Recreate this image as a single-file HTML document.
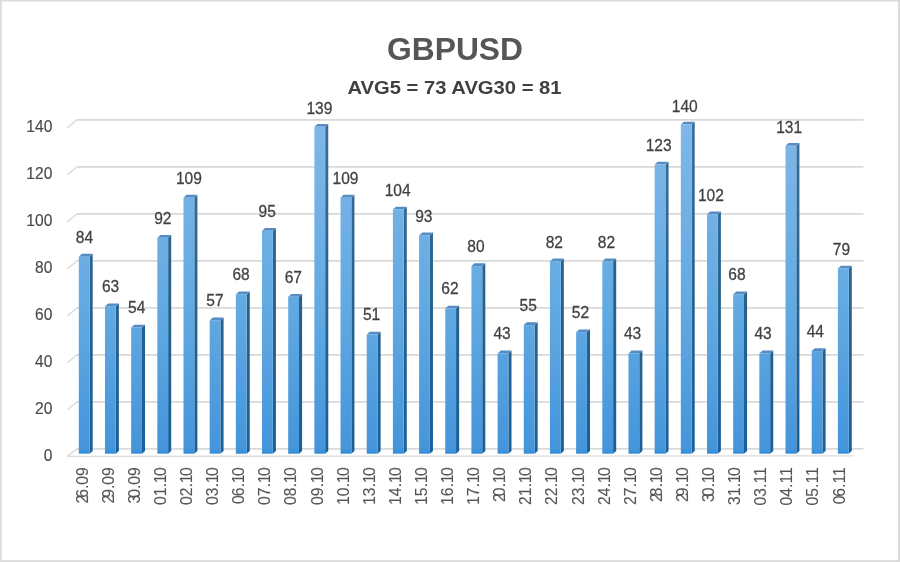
<!DOCTYPE html>
<html lang="en"><head><meta charset="utf-8"><title>GBPUSD</title>
<style>
html,body{margin:0;padding:0;background:#fff;}
body{width:900px;height:562px;overflow:hidden;}
svg{display:block;}
text{font-family:"Liberation Sans",sans-serif;}
</style></head><body>
<svg width="900" height="562" viewBox="0 0 900 562">
<defs>
<linearGradient id="gf" gradientUnits="userSpaceOnUse" x1="0" y1="120" x2="0" y2="454">
<stop offset="0" stop-color="#80b7e8"/><stop offset="0.55" stop-color="#62aae2"/><stop offset="0.985" stop-color="#4595db"/><stop offset="1" stop-color="#2f8bd6"/>
</linearGradient>
<linearGradient id="gs" gradientUnits="userSpaceOnUse" x1="0" y1="120" x2="0" y2="454">
<stop offset="0" stop-color="#3c6e9b"/><stop offset="0.55" stop-color="#26628c"/><stop offset="1" stop-color="#1c6099"/>
</linearGradient>
<filter id="b" x="-5%" y="-5%" width="110%" height="110%"><feGaussianBlur stdDeviation="0.4"/></filter>
<filter id="b3" x="-5%" y="-5%" width="110%" height="110%"><feGaussianBlur stdDeviation="0.7"/></filter>
<filter id="b2" x="-5%" y="-5%" width="110%" height="110%"><feGaussianBlur stdDeviation="0.6"/></filter>
</defs>
<rect x="0" y="0" width="900" height="562" fill="#ffffff"/>

<rect x="0" y="0" width="900" height="1.6" fill="#dcdcdc"/>
<rect x="0" y="0" width="1.8" height="562" fill="#dcdcdc"/>
<rect x="898.1" y="0" width="1.9" height="562" fill="#dadada"/>
<rect x="0" y="560.2" width="900" height="1.8" fill="#dadada"/>
<g filter="url(#b2)">
<g fill="none" stroke="#d9d9d9" stroke-width="1.7" filter="url(#b3)">
<path d="M76.8 448.9 H863.5"/>
<path d="M67.4 456.4 L77.1 448.7" stroke="#dadada" stroke-width="1.4"/>
<path d="M76.8 401.9 H863.5"/>
<path d="M67.4 409.8 L77.1 401.7" stroke="#dadada" stroke-width="1.4"/>
<path d="M76.8 354.9 H863.5"/>
<path d="M67.4 362.8 L77.1 354.7" stroke="#dadada" stroke-width="1.4"/>
<path d="M76.8 307.9 H863.5"/>
<path d="M67.4 315.8 L77.1 307.7" stroke="#dadada" stroke-width="1.4"/>
<path d="M76.8 260.9 H863.5"/>
<path d="M67.4 268.8 L77.1 260.7" stroke="#dadada" stroke-width="1.4"/>
<path d="M76.8 213.9 H863.5"/>
<path d="M67.4 221.8 L77.1 213.7" stroke="#dadada" stroke-width="1.4"/>
<path d="M76.8 166.9 H863.5"/>
<path d="M67.4 174.8 L77.1 166.7" stroke="#dadada" stroke-width="1.4"/>
<path d="M76.8 119.9 H863.5"/>
<path d="M67.4 127.8 L77.1 119.7" stroke="#dadada" stroke-width="1.4"/>
<path d="M67.4 456.4 L854 455.8" stroke="#dcdcdc" stroke-width="1.3"/>
</g>
<path d="M89.60 256.66 L92.70 253.86 V450.90 L89.60 453.70 Z" fill="url(#gs)"/>
<path d="M78.80 256.66 L81.90 253.86 H92.70 L89.60 256.66 Z" fill="#558cc3"/>
<rect x="78.80" y="256.66" width="10.8" height="197.04" fill="url(#gf)"/>
<path d="M115.77 306.22 L118.87 303.42 V450.90 L115.77 453.70 Z" fill="url(#gs)"/>
<path d="M104.97 306.22 L108.07 303.42 H118.87 L115.77 306.22 Z" fill="#558cc3"/>
<rect x="104.97" y="306.22" width="10.8" height="147.48" fill="url(#gf)"/>
<path d="M141.95 327.46 L145.05 324.66 V450.90 L141.95 453.70 Z" fill="url(#gs)"/>
<path d="M131.15 327.46 L134.25 324.66 H145.05 L141.95 327.46 Z" fill="#558cc3"/>
<rect x="131.15" y="327.46" width="10.8" height="126.24" fill="url(#gf)"/>
<path d="M168.12 237.78 L171.22 234.98 V450.90 L168.12 453.70 Z" fill="url(#gs)"/>
<path d="M157.32 237.78 L160.42 234.98 H171.22 L168.12 237.78 Z" fill="#558cc3"/>
<rect x="157.32" y="237.78" width="10.8" height="215.92" fill="url(#gf)"/>
<path d="M194.30 197.66 L197.40 194.86 V450.90 L194.30 453.70 Z" fill="url(#gs)"/>
<path d="M183.50 197.66 L186.60 194.86 H197.40 L194.30 197.66 Z" fill="#558cc3"/>
<rect x="183.50" y="197.66" width="10.8" height="256.04" fill="url(#gf)"/>
<path d="M220.48 320.38 L223.58 317.58 V450.90 L220.48 453.70 Z" fill="url(#gs)"/>
<path d="M209.68 320.38 L212.78 317.58 H223.58 L220.48 320.38 Z" fill="#558cc3"/>
<rect x="209.68" y="320.38" width="10.8" height="133.32" fill="url(#gf)"/>
<path d="M246.65 294.42 L249.75 291.62 V450.90 L246.65 453.70 Z" fill="url(#gs)"/>
<path d="M235.85 294.42 L238.95 291.62 H249.75 L246.65 294.42 Z" fill="#558cc3"/>
<rect x="235.85" y="294.42" width="10.8" height="159.28" fill="url(#gf)"/>
<path d="M272.82 230.70 L275.93 227.90 V450.90 L272.82 453.70 Z" fill="url(#gs)"/>
<path d="M262.02 230.70 L265.12 227.90 H275.93 L272.82 230.70 Z" fill="#558cc3"/>
<rect x="262.02" y="230.70" width="10.8" height="223.00" fill="url(#gf)"/>
<path d="M299.00 296.78 L302.10 293.98 V450.90 L299.00 453.70 Z" fill="url(#gs)"/>
<path d="M288.20 296.78 L291.30 293.98 H302.10 L299.00 296.78 Z" fill="#558cc3"/>
<rect x="288.20" y="296.78" width="10.8" height="156.92" fill="url(#gf)"/>
<path d="M325.18 126.86 L328.28 124.06 V450.90 L325.18 453.70 Z" fill="url(#gs)"/>
<path d="M314.38 126.86 L317.48 124.06 H328.28 L325.18 126.86 Z" fill="#558cc3"/>
<rect x="314.38" y="126.86" width="10.8" height="326.84" fill="url(#gf)"/>
<path d="M351.35 197.66 L354.45 194.86 V450.90 L351.35 453.70 Z" fill="url(#gs)"/>
<path d="M340.55 197.66 L343.65 194.86 H354.45 L351.35 197.66 Z" fill="#558cc3"/>
<rect x="340.55" y="197.66" width="10.8" height="256.04" fill="url(#gf)"/>
<path d="M377.53 334.54 L380.63 331.74 V450.90 L377.53 453.70 Z" fill="url(#gs)"/>
<path d="M366.73 334.54 L369.83 331.74 H380.63 L377.53 334.54 Z" fill="#558cc3"/>
<rect x="366.73" y="334.54" width="10.8" height="119.16" fill="url(#gf)"/>
<path d="M403.70 209.46 L406.80 206.66 V450.90 L403.70 453.70 Z" fill="url(#gs)"/>
<path d="M392.90 209.46 L396.00 206.66 H406.80 L403.70 209.46 Z" fill="#558cc3"/>
<rect x="392.90" y="209.46" width="10.8" height="244.24" fill="url(#gf)"/>
<path d="M429.88 235.42 L432.98 232.62 V450.90 L429.88 453.70 Z" fill="url(#gs)"/>
<path d="M419.08 235.42 L422.18 232.62 H432.98 L429.88 235.42 Z" fill="#558cc3"/>
<rect x="419.08" y="235.42" width="10.8" height="218.28" fill="url(#gf)"/>
<path d="M456.05 308.58 L459.15 305.78 V450.90 L456.05 453.70 Z" fill="url(#gs)"/>
<path d="M445.25 308.58 L448.35 305.78 H459.15 L456.05 308.58 Z" fill="#558cc3"/>
<rect x="445.25" y="308.58" width="10.8" height="145.12" fill="url(#gf)"/>
<path d="M482.23 266.10 L485.33 263.30 V450.90 L482.23 453.70 Z" fill="url(#gs)"/>
<path d="M471.43 266.10 L474.53 263.30 H485.33 L482.23 266.10 Z" fill="#558cc3"/>
<rect x="471.43" y="266.10" width="10.8" height="187.60" fill="url(#gf)"/>
<path d="M508.40 353.42 L511.50 350.62 V450.90 L508.40 453.70 Z" fill="url(#gs)"/>
<path d="M497.60 353.42 L500.70 350.62 H511.50 L508.40 353.42 Z" fill="#558cc3"/>
<rect x="497.60" y="353.42" width="10.8" height="100.28" fill="url(#gf)"/>
<path d="M534.57 325.10 L537.67 322.30 V450.90 L534.57 453.70 Z" fill="url(#gs)"/>
<path d="M523.77 325.10 L526.88 322.30 H537.67 L534.57 325.10 Z" fill="#558cc3"/>
<rect x="523.77" y="325.10" width="10.8" height="128.60" fill="url(#gf)"/>
<path d="M560.75 261.38 L563.85 258.58 V450.90 L560.75 453.70 Z" fill="url(#gs)"/>
<path d="M549.95 261.38 L553.05 258.58 H563.85 L560.75 261.38 Z" fill="#558cc3"/>
<rect x="549.95" y="261.38" width="10.8" height="192.32" fill="url(#gf)"/>
<path d="M586.92 332.18 L590.02 329.38 V450.90 L586.92 453.70 Z" fill="url(#gs)"/>
<path d="M576.12 332.18 L579.23 329.38 H590.02 L586.92 332.18 Z" fill="#558cc3"/>
<rect x="576.12" y="332.18" width="10.8" height="121.52" fill="url(#gf)"/>
<path d="M613.10 261.38 L616.20 258.58 V450.90 L613.10 453.70 Z" fill="url(#gs)"/>
<path d="M602.30 261.38 L605.40 258.58 H616.20 L613.10 261.38 Z" fill="#558cc3"/>
<rect x="602.30" y="261.38" width="10.8" height="192.32" fill="url(#gf)"/>
<path d="M639.27 353.42 L642.38 350.62 V450.90 L639.27 453.70 Z" fill="url(#gs)"/>
<path d="M628.48 353.42 L631.58 350.62 H642.38 L639.27 353.42 Z" fill="#558cc3"/>
<rect x="628.48" y="353.42" width="10.8" height="100.28" fill="url(#gf)"/>
<path d="M665.45 164.62 L668.55 161.82 V450.90 L665.45 453.70 Z" fill="url(#gs)"/>
<path d="M654.65 164.62 L657.75 161.82 H668.55 L665.45 164.62 Z" fill="#558cc3"/>
<rect x="654.65" y="164.62" width="10.8" height="289.08" fill="url(#gf)"/>
<path d="M691.62 124.50 L694.72 121.70 V450.90 L691.62 453.70 Z" fill="url(#gs)"/>
<path d="M680.82 124.50 L683.92 121.70 H694.72 L691.62 124.50 Z" fill="#558cc3"/>
<rect x="680.82" y="124.50" width="10.8" height="329.20" fill="url(#gf)"/>
<path d="M717.80 214.18 L720.90 211.38 V450.90 L717.80 453.70 Z" fill="url(#gs)"/>
<path d="M707.00 214.18 L710.10 211.38 H720.90 L717.80 214.18 Z" fill="#558cc3"/>
<rect x="707.00" y="214.18" width="10.8" height="239.52" fill="url(#gf)"/>
<path d="M743.97 294.42 L747.07 291.62 V450.90 L743.97 453.70 Z" fill="url(#gs)"/>
<path d="M733.17 294.42 L736.27 291.62 H747.07 L743.97 294.42 Z" fill="#558cc3"/>
<rect x="733.17" y="294.42" width="10.8" height="159.28" fill="url(#gf)"/>
<path d="M770.15 353.42 L773.25 350.62 V450.90 L770.15 453.70 Z" fill="url(#gs)"/>
<path d="M759.35 353.42 L762.45 350.62 H773.25 L770.15 353.42 Z" fill="#558cc3"/>
<rect x="759.35" y="353.42" width="10.8" height="100.28" fill="url(#gf)"/>
<path d="M796.32 145.74 L799.42 142.94 V450.90 L796.32 453.70 Z" fill="url(#gs)"/>
<path d="M785.52 145.74 L788.62 142.94 H799.42 L796.32 145.74 Z" fill="#558cc3"/>
<rect x="785.52" y="145.74" width="10.8" height="307.96" fill="url(#gf)"/>
<path d="M822.50 351.06 L825.60 348.26 V450.90 L822.50 453.70 Z" fill="url(#gs)"/>
<path d="M811.70 351.06 L814.80 348.26 H825.60 L822.50 351.06 Z" fill="#558cc3"/>
<rect x="811.70" y="351.06" width="10.8" height="102.64" fill="url(#gf)"/>
<path d="M848.67 268.46 L851.77 265.66 V450.90 L848.67 453.70 Z" fill="url(#gs)"/>
<path d="M837.88 268.46 L840.98 265.66 H851.77 L848.67 268.46 Z" fill="#558cc3"/>
<rect x="837.88" y="268.46" width="10.8" height="185.24" fill="url(#gf)"/>
</g>
<g filter="url(#b)">
<text x="455" y="60" font-size="31" font-weight="bold" fill="#575757" text-anchor="middle" textLength="136" lengthAdjust="spacingAndGlyphs">GBPUSD</text>
<text x="454.5" y="93.5" font-size="17.8" font-weight="bold" fill="#404040" text-anchor="middle" textLength="214" lengthAdjust="spacingAndGlyphs">AVG5 = 73 AVG30 = 81</text>
<g font-size="15.8" fill="#404040" stroke="#404040" stroke-width="0.25">
<text transform="translate(52.3 460.8) scale(0.985 1)" text-anchor="end" fill="#4a4a4a" stroke="#4a4a4a" stroke-width="0.15">0</text>
<text transform="translate(52.3 413.8) scale(0.985 1)" text-anchor="end" fill="#4a4a4a" stroke="#4a4a4a" stroke-width="0.15">20</text>
<text transform="translate(52.3 366.8) scale(0.985 1)" text-anchor="end" fill="#4a4a4a" stroke="#4a4a4a" stroke-width="0.15">40</text>
<text transform="translate(52.3 319.8) scale(0.985 1)" text-anchor="end" fill="#4a4a4a" stroke="#4a4a4a" stroke-width="0.15">60</text>
<text transform="translate(52.3 272.8) scale(0.985 1)" text-anchor="end" fill="#4a4a4a" stroke="#4a4a4a" stroke-width="0.15">80</text>
<text transform="translate(52.3 225.8) scale(0.985 1)" text-anchor="end" fill="#4a4a4a" stroke="#4a4a4a" stroke-width="0.15">100</text>
<text transform="translate(52.3 178.8) scale(0.985 1)" text-anchor="end" fill="#4a4a4a" stroke="#4a4a4a" stroke-width="0.15">120</text>
<text transform="translate(52.3 131.8) scale(0.985 1)" text-anchor="end" fill="#4a4a4a" stroke="#4a4a4a" stroke-width="0.15">140</text>
<text transform="translate(84.5 242.8) scale(0.985 1)" text-anchor="middle">84</text>
<text transform="translate(110.6 292.0) scale(0.985 1)" text-anchor="middle">63</text>
<text transform="translate(136.7 313.1) scale(0.985 1)" text-anchor="middle">54</text>
<text transform="translate(162.8 224.0) scale(0.985 1)" text-anchor="middle">92</text>
<text transform="translate(188.9 184.2) scale(0.985 1)" text-anchor="middle">109</text>
<text transform="translate(215.0 306.0) scale(0.985 1)" text-anchor="middle">57</text>
<text transform="translate(241.1 280.3) scale(0.985 1)" text-anchor="middle">68</text>
<text transform="translate(267.2 217.0) scale(0.985 1)" text-anchor="middle">95</text>
<text transform="translate(293.3 282.6) scale(0.985 1)" text-anchor="middle">67</text>
<text transform="translate(319.4 113.9) scale(0.985 1)" text-anchor="middle">139</text>
<text transform="translate(345.5 184.2) scale(0.985 1)" text-anchor="middle">109</text>
<text transform="translate(371.6 320.1) scale(0.985 1)" text-anchor="middle">51</text>
<text transform="translate(397.7 195.9) scale(0.985 1)" text-anchor="middle">104</text>
<text transform="translate(423.8 221.7) scale(0.985 1)" text-anchor="middle">93</text>
<text transform="translate(449.9 294.3) scale(0.985 1)" text-anchor="middle">62</text>
<text transform="translate(476.0 252.2) scale(0.985 1)" text-anchor="middle">80</text>
<text transform="translate(502.1 338.9) scale(0.985 1)" text-anchor="middle">43</text>
<text transform="translate(528.2 310.7) scale(0.985 1)" text-anchor="middle">55</text>
<text transform="translate(554.3 247.5) scale(0.985 1)" text-anchor="middle">82</text>
<text transform="translate(580.4 317.8) scale(0.985 1)" text-anchor="middle">52</text>
<text transform="translate(606.5 247.5) scale(0.985 1)" text-anchor="middle">82</text>
<text transform="translate(632.6 338.9) scale(0.985 1)" text-anchor="middle">43</text>
<text transform="translate(658.7 151.4) scale(0.985 1)" text-anchor="middle">123</text>
<text transform="translate(684.8 111.6) scale(0.985 1)" text-anchor="middle">140</text>
<text transform="translate(710.9 200.6) scale(0.985 1)" text-anchor="middle">102</text>
<text transform="translate(737.0 280.3) scale(0.985 1)" text-anchor="middle">68</text>
<text transform="translate(763.1 338.9) scale(0.985 1)" text-anchor="middle">43</text>
<text transform="translate(789.2 132.7) scale(0.985 1)" text-anchor="middle">131</text>
<text transform="translate(815.3 336.5) scale(0.985 1)" text-anchor="middle">44</text>
<text transform="translate(841.4 254.5) scale(0.985 1)" text-anchor="middle">79</text>
<text transform="translate(87.6 467.3) rotate(-90) scale(1.0 1)" font-size="15.7" text-anchor="end" fill="#555555" stroke="#555555" stroke-width="0.1"><tspan>2</tspan><tspan dx="-3.1">6.0</tspan><tspan dx="0">9</tspan></text>
<text transform="translate(113.7 467.3) rotate(-90) scale(1.0 1)" font-size="15.7" text-anchor="end" fill="#555555" stroke="#555555" stroke-width="0.1"><tspan>2</tspan><tspan dx="-3.1">9.0</tspan><tspan dx="0">9</tspan></text>
<text transform="translate(139.8 467.3) rotate(-90) scale(1.0 1)" font-size="15.7" text-anchor="end" fill="#555555" stroke="#555555" stroke-width="0.1"><tspan>3</tspan><tspan dx="-3.1">0.0</tspan><tspan dx="0">9</tspan></text>
<text transform="translate(165.9 467.3) rotate(-90) scale(1.0 1)" font-size="15.7" text-anchor="end" fill="#555555" stroke="#555555" stroke-width="0.1"><tspan>0</tspan><tspan dx="0">1.1</tspan><tspan dx="-1.5">0</tspan></text>
<text transform="translate(192.0 467.3) rotate(-90) scale(1.0 1)" font-size="15.7" text-anchor="end" fill="#555555" stroke="#555555" stroke-width="0.1"><tspan>0</tspan><tspan dx="0">2.1</tspan><tspan dx="-1.5">0</tspan></text>
<text transform="translate(218.1 467.3) rotate(-90) scale(1.0 1)" font-size="15.7" text-anchor="end" fill="#555555" stroke="#555555" stroke-width="0.1"><tspan>0</tspan><tspan dx="0">3.1</tspan><tspan dx="-1.5">0</tspan></text>
<text transform="translate(244.2 467.3) rotate(-90) scale(1.0 1)" font-size="15.7" text-anchor="end" fill="#555555" stroke="#555555" stroke-width="0.1"><tspan>0</tspan><tspan dx="-1.2">6.1</tspan><tspan dx="-1.5">0</tspan></text>
<text transform="translate(270.3 467.3) rotate(-90) scale(1.0 1)" font-size="15.7" text-anchor="end" fill="#555555" stroke="#555555" stroke-width="0.1"><tspan>0</tspan><tspan dx="0">7.1</tspan><tspan dx="-1.5">0</tspan></text>
<text transform="translate(296.4 467.3) rotate(-90) scale(1.0 1)" font-size="15.7" text-anchor="end" fill="#555555" stroke="#555555" stroke-width="0.1"><tspan>0</tspan><tspan dx="0">8.1</tspan><tspan dx="-1.5">0</tspan></text>
<text transform="translate(322.5 467.3) rotate(-90) scale(1.0 1)" font-size="15.7" text-anchor="end" fill="#555555" stroke="#555555" stroke-width="0.1"><tspan>0</tspan><tspan dx="0">9.1</tspan><tspan dx="-1.5">0</tspan></text>
<text transform="translate(348.6 467.3) rotate(-90) scale(1.0 1)" font-size="15.7" text-anchor="end" fill="#555555" stroke="#555555" stroke-width="0.1"><tspan>1</tspan><tspan dx="0">0.1</tspan><tspan dx="-1.5">0</tspan></text>
<text transform="translate(374.7 467.3) rotate(-90) scale(1.0 1)" font-size="15.7" text-anchor="end" fill="#555555" stroke="#555555" stroke-width="0.1"><tspan>1</tspan><tspan dx="0">3.1</tspan><tspan dx="-1.5">0</tspan></text>
<text transform="translate(400.8 467.3) rotate(-90) scale(1.0 1)" font-size="15.7" text-anchor="end" fill="#555555" stroke="#555555" stroke-width="0.1"><tspan>1</tspan><tspan dx="0">4.1</tspan><tspan dx="-1.5">0</tspan></text>
<text transform="translate(426.9 467.3) rotate(-90) scale(1.0 1)" font-size="15.7" text-anchor="end" fill="#555555" stroke="#555555" stroke-width="0.1"><tspan>1</tspan><tspan dx="0">5.1</tspan><tspan dx="-1.5">0</tspan></text>
<text transform="translate(453.0 467.3) rotate(-90) scale(1.0 1)" font-size="15.7" text-anchor="end" fill="#555555" stroke="#555555" stroke-width="0.1"><tspan>1</tspan><tspan dx="0">6.1</tspan><tspan dx="-1.5">0</tspan></text>
<text transform="translate(479.1 467.3) rotate(-90) scale(1.0 1)" font-size="15.7" text-anchor="end" fill="#555555" stroke="#555555" stroke-width="0.1"><tspan>1</tspan><tspan dx="0">7.1</tspan><tspan dx="-1.5">0</tspan></text>
<text transform="translate(505.2 467.3) rotate(-90) scale(1.0 1)" font-size="15.7" text-anchor="end" fill="#555555" stroke="#555555" stroke-width="0.1"><tspan>2</tspan><tspan dx="-3.1">0.1</tspan><tspan dx="-1.5">0</tspan></text>
<text transform="translate(531.3 467.3) rotate(-90) scale(1.0 1)" font-size="15.7" text-anchor="end" fill="#555555" stroke="#555555" stroke-width="0.1"><tspan>2</tspan><tspan dx="0">1.1</tspan><tspan dx="-1.5">0</tspan></text>
<text transform="translate(557.4 467.3) rotate(-90) scale(1.0 1)" font-size="15.7" text-anchor="end" fill="#555555" stroke="#555555" stroke-width="0.1"><tspan>2</tspan><tspan dx="0">2.1</tspan><tspan dx="-1.5">0</tspan></text>
<text transform="translate(583.5 467.3) rotate(-90) scale(1.0 1)" font-size="15.7" text-anchor="end" fill="#555555" stroke="#555555" stroke-width="0.1"><tspan>2</tspan><tspan dx="0">3.1</tspan><tspan dx="-1.5">0</tspan></text>
<text transform="translate(609.6 467.3) rotate(-90) scale(1.0 1)" font-size="15.7" text-anchor="end" fill="#555555" stroke="#555555" stroke-width="0.1"><tspan>2</tspan><tspan dx="0">4.1</tspan><tspan dx="-1.5">0</tspan></text>
<text transform="translate(635.7 467.3) rotate(-90) scale(1.0 1)" font-size="15.7" text-anchor="end" fill="#555555" stroke="#555555" stroke-width="0.1"><tspan>2</tspan><tspan dx="0">7.1</tspan><tspan dx="-1.5">0</tspan></text>
<text transform="translate(661.8 467.3) rotate(-90) scale(1.0 1)" font-size="15.7" text-anchor="end" fill="#555555" stroke="#555555" stroke-width="0.1"><tspan>2</tspan><tspan dx="-3.1">8.1</tspan><tspan dx="-1.5">0</tspan></text>
<text transform="translate(687.9 467.3) rotate(-90) scale(1.0 1)" font-size="15.7" text-anchor="end" fill="#555555" stroke="#555555" stroke-width="0.1"><tspan>2</tspan><tspan dx="-3.1">9.1</tspan><tspan dx="-1.5">0</tspan></text>
<text transform="translate(714.0 467.3) rotate(-90) scale(1.0 1)" font-size="15.7" text-anchor="end" fill="#555555" stroke="#555555" stroke-width="0.1"><tspan>3</tspan><tspan dx="-3.1">0.1</tspan><tspan dx="-1.5">0</tspan></text>
<text transform="translate(740.1 467.3) rotate(-90) scale(1.0 1)" font-size="15.7" text-anchor="end" fill="#555555" stroke="#555555" stroke-width="0.1"><tspan>3</tspan><tspan dx="0">1.1</tspan><tspan dx="-1.5">0</tspan></text>
<text transform="translate(766.2 467.3) rotate(-90) scale(1.0 1)" font-size="15.7" text-anchor="end" fill="#555555" stroke="#555555" stroke-width="0.1"><tspan>0</tspan><tspan dx="0">3.1</tspan><tspan dx="0">1</tspan></text>
<text transform="translate(792.3 467.3) rotate(-90) scale(1.0 1)" font-size="15.7" text-anchor="end" fill="#555555" stroke="#555555" stroke-width="0.1"><tspan>0</tspan><tspan dx="0">4.1</tspan><tspan dx="0">1</tspan></text>
<text transform="translate(818.4 467.3) rotate(-90) scale(1.0 1)" font-size="15.7" text-anchor="end" fill="#555555" stroke="#555555" stroke-width="0.1"><tspan>0</tspan><tspan dx="0">5.1</tspan><tspan dx="0">1</tspan></text>
<text transform="translate(844.5 467.3) rotate(-90) scale(1.0 1)" font-size="15.7" text-anchor="end" fill="#555555" stroke="#555555" stroke-width="0.1"><tspan>0</tspan><tspan dx="-1.2">6.1</tspan><tspan dx="0">1</tspan></text>
</g>
</g>
</svg></body></html>
